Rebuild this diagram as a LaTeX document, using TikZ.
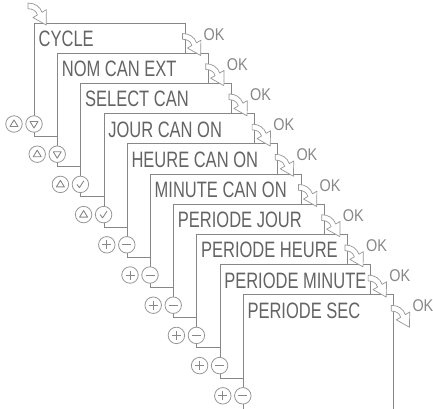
\documentclass[tikz,border=0pt]{standalone}
\usepackage{fontspec}
\setmainfont{Liberation Sans}
\definecolor{ln}{RGB}{135,135,135}
\definecolor{tx}{RGB}{100,100,100}
\definecolor{okc}{RGB}{135,135,135}
\definecolor{cc}{RGB}{150,150,150}
\begin{document}
\begin{tikzpicture}[x=1pt,y=-1pt,
  screen/.style={draw=ln, fill=white, line width=0.9pt, anchor=north west, inner sep=0, minimum width=150.5pt},
  lcd/.style={anchor=base west, inner sep=0, text=tx},
  oklab/.style={anchor=base west, inner sep=0, text=okc},
  btn/.style={circle, draw=cc, fill=white, line width=0.8pt, minimum size=16.5pt, inner sep=0},
  sym/.style={draw=ln, line width=0.9pt, line join=round},
  okarrow/.pic={\draw[draw=cc, fill=white, line width=0.7pt, line join=round, scale=1.15] (0,-2.6) .. controls (6,-2.6) and (10.5,0.5) .. (12.2,5.5) -- (16,3.2) -- (15.8,16.5) -- (4.3,10) -- (8.2,7.8) .. controls (7,4) and (4,2.4) .. (0,2.4) -- cycle;}
]
\useasboundingbox (0,0) rectangle (433,408);
\clip (0,0) rectangle (433,408);
% screens
\foreach \t [count=\n from 0] in {CYCLE, NOM CAN EXT, SELECT CAN, JOUR CAN ON, HEURE CAN ON, MINUTE CAN ON, PERIODE JOUR, PERIODE HEURE, PERIODE MINUTE, PERIODE SEC}{
  \pgfmathsetmacro\L{34+23.2*\n}
  \pgfmathsetmacro\T{22.5+30.2*\n}
  \pgfmathsetmacro\H{\n==9 ? 125 : 113.5}
  \node[screen, minimum height=\H pt] (b\n) at (\L,\T) {};
  \node[lcd] (t\n) at (\L+4.5,\T+24) {\scalebox{0.74}[1]{\fontsize{22.3}{24}\selectfont \t}};
}
% buttons
\foreach \n in {0,...,9}{
  \pgfmathsetmacro\L{34+23.2*\n}
  \pgfmathsetmacro\Y{22.5+30.2*\n+113.5-12}
  \node[btn] (ca\n) at (\L-20,\Y) {};
  \node[btn] (cb\n) at (\L,\Y) {};
  \ifnum\n<2
    \draw[sym] ([shift={(-4,2.5)}]ca\n.center) -- ++(8,0) -- ++(-4,-6.5) -- cycle;
    \draw[sym] ([shift={(-4,-2.5)}]cb\n.center) -- ++(8,0) -- ++(-4,6.5) -- cycle;
  \else\ifnum\n<4
    \draw[sym] ([shift={(-4,2.5)}]ca\n.center) -- ++(8,0) -- ++(-4,-6.5) -- cycle;
    \draw[sym] ([shift={(-3.5,0)}]cb\n.center) -- ++(2.5,3.2) -- ++(4.5,-6.8);
  \else
    \draw[sym] ([shift={(-4.5,0)}]ca\n.center) -- ++(9,0);
    \draw[sym] ([shift={(0,-4.5)}]ca\n.center) -- ++(0,9);
    \draw[sym] ([shift={(-4.5,0)}]cb\n.center) -- ++(9,0);
  \fi\fi
}
% OK arrows
\pic at (28,6) {okarrow};
\foreach \n in {0,...,9}{
  \pgfmathsetmacro\R{34+23.2*\n+150.5}
  \pgfmathsetmacro\T{22.5+30.2*\n}
  \pic at (\R-2,\T+14) {okarrow};
  \node[oklab] (ok\n) at (\R+19,\T+17.5) {\scalebox{0.85}[1]{\fontsize{17}{18}\selectfont OK}};
}
\end{tikzpicture}
\end{document}
